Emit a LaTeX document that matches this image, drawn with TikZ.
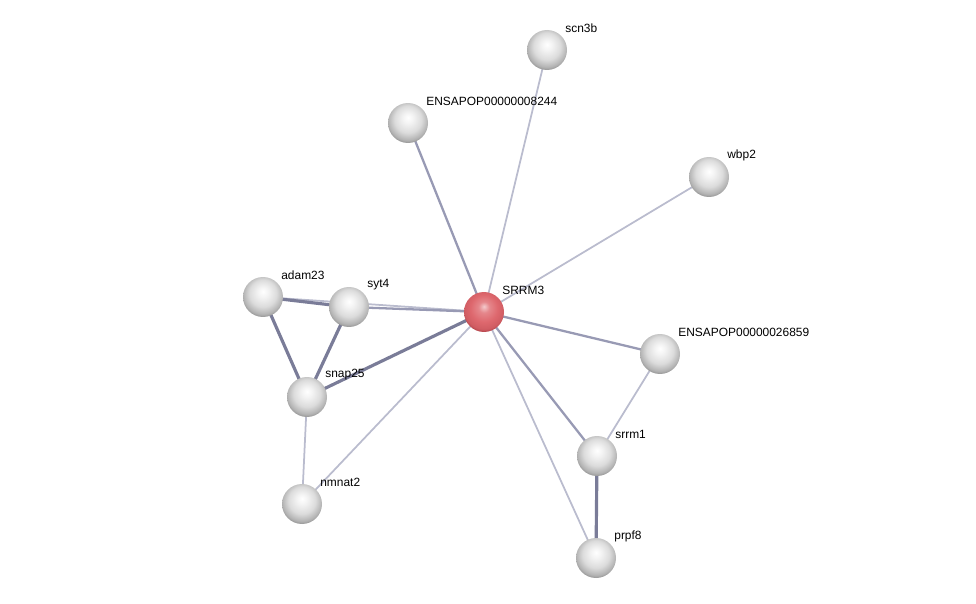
\documentclass[tikz,border=0pt]{standalone}
\usepackage{fontspec}
\setmainfont{Liberation Sans}
\usetikzlibrary{backgrounds}

\definecolor{edgeweak}{RGB}{186,188,206}
\definecolor{edgemid}{RGB}{152,154,180}
\definecolor{edgestrong}{RGB}{122,124,152}
\definecolor{hubred}{RGB}{222,104,110}
\definecolor{hubrim}{RGB}{150,45,52}

\pgfdeclareradialshading{greysphere}{\pgfpoint{0bp}{7bp}}{%
  color(0bp)=(white); color(7bp)=(black!5); color(17bp)=(black!14);
  color(25bp)=(black!30); color(31bp)=(black!52); color(50bp)=(black!60)}
\pgfdeclareradialshading{redsphere}{\pgfpoint{0bp}{7bp}}{%
  color(0bp)=(hubred!35!white); color(7bp)=(hubred!80!white); color(17bp)=(hubred);
  color(25bp)=(hubred!80!hubrim); color(31bp)=(hubrim); color(50bp)=(hubrim)}

\begin{document}
\begin{tikzpicture}[
        x=0.02cm, y=-0.02cm,
        protein/.style={
          circle,
          minimum size=0.8cm,
          inner sep=0pt,
          shading=greysphere
        },
        query/.style={
          protein,
          shading=redsphere
        },
        lbl/.style={
          font=\fontsize{6.8}{8}\selectfont,
          anchor=west,
          inner sep=0pt
        },
        weak/.style={draw=edgeweak, line width=1pt},
        mid/.style={draw=edgemid, line width=1.3pt},
        strong/.style={draw=edgestrong, line width=1.8pt}
      ]
      \useasboundingbox (0,0) rectangle (976,604);

      \node[query] (srrm3) at (484,312) {};
      \node[protein] (scn3b) at (547,50) {};
      \node[protein] (ens8244) at (408,123) {};
      \node[protein] (wbp2) at (709,177) {};
      \node[protein] (adam23) at (263,297) {};
      \node[protein] (syt4) at (349,307) {};
      \node[protein] (snap25) at (307,397) {};
      \node[protein] (nmnat2) at (302,504) {};
      \node[protein] (ens26859) at (660,354) {};
      \node[protein] (srrm1) at (597,456) {};
      \node[protein] (prpf8) at (596,558) {};

      \node[lbl] (srrm3l) at ([shift={(18,-22)}]srrm3.center) {SRRM3};
      \node[lbl] (scn3bl) at ([shift={(18,-22)}]scn3b.center) {scn3b};
      \node[lbl] (ens8244l) at ([shift={(18,-22)}]ens8244.center) {ENSAPOP00000008244};
      \node[lbl] (wbp2l) at ([shift={(18,-22)}]wbp2.center) {wbp2};
      \node[lbl] (adam23l) at ([shift={(18,-22)}]adam23.center) {adam23};
      \node[lbl] (syt4l) at ([shift={(18,-22)}]syt4.center) {syt4};
      \node[lbl] (snap25l) at ([shift={(18,-22)}]snap25.center) {snap25};
      \node[lbl] (nmnat2l) at ([shift={(18,-22)}]nmnat2.center) {nmnat2};
      \node[lbl] (ens26859l) at ([shift={(18,-22)}]ens26859.center) {ENSAPOP00000026859};
      \node[lbl] (srrm1l) at ([shift={(18,-22)}]srrm1.center) {srrm1};
      \node[lbl] (prpf8l) at ([shift={(18,-22)}]prpf8.center) {prpf8};

      \begin{scope}[on background layer]
        \draw[weak] (srrm3.center) -- (scn3b.center);
        \draw[mid] (srrm3.center) -- (ens8244.center);
        \draw[weak] (srrm3.center) -- (wbp2.center);
        \draw[weak] (srrm3.center) -- (adam23.center);
        \draw[mid] (srrm3.center) -- (syt4.center);
        \draw[strong] (adam23.center) -- (syt4.center);
        \draw[strong] (adam23.center) -- (snap25.center);
        \draw[strong] (syt4.center) -- (snap25.center);
        \draw[strong] (srrm3.center) -- (snap25.center);
        \draw[weak] (snap25.center) -- (nmnat2.center);
        \draw[weak] (srrm3.center) -- (nmnat2.center);
        \draw[mid] (srrm3.center) -- (ens26859.center);
        \draw[mid] (srrm3.center) -- (srrm1.center);
        \draw[weak] (srrm3.center) -- (prpf8.center);
        \draw[weak] (ens26859.center) -- (srrm1.center);
        \draw[strong] (srrm1.center) -- (prpf8.center);
      \end{scope}
    \end{tikzpicture}
\end{document}
